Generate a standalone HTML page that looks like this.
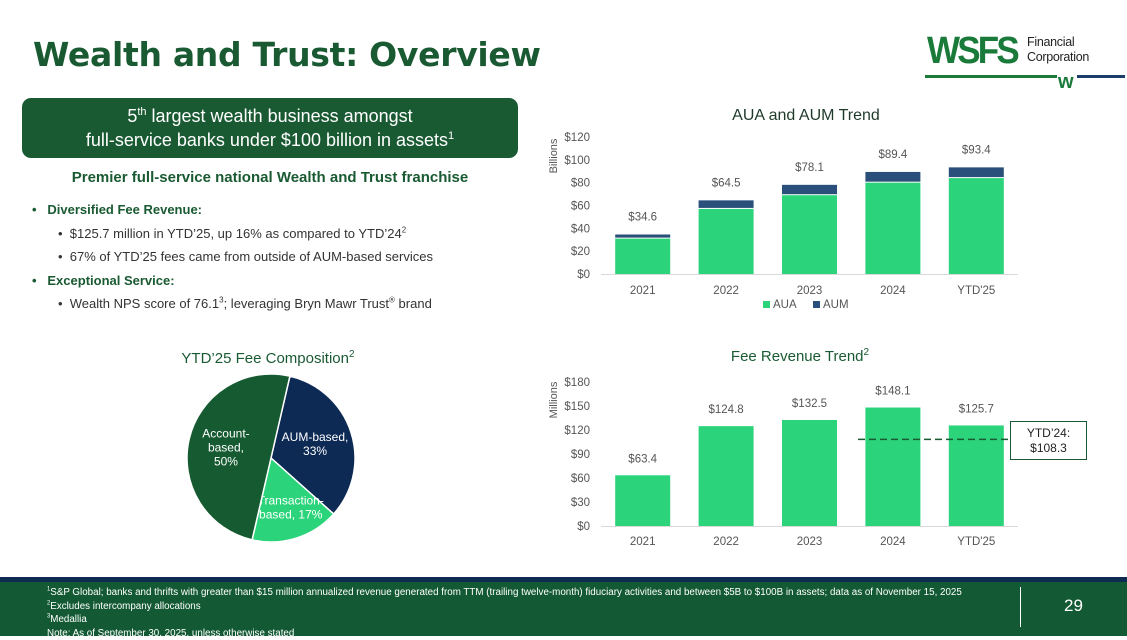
<!DOCTYPE html>
<html><head><meta charset="utf-8">
<style>
body{margin:0;width:1127px;height:636px;overflow:hidden;background:#fff;font-family:"Liberation Sans",sans-serif;position:relative}
.abs{position:absolute}
sup{line-height:0}
</style></head><body>
<div class="abs" style="left:33px;top:35px;font-size:33px;font-weight:bold;color:#1a5a32;font-family:'DejaVu Sans','Liberation Sans',sans-serif;letter-spacing:-0.3px">Wealth and Trust: Overview</div>
<div class="abs" style="left:925px;top:30px;width:200px;height:70px">
 <div style="position:absolute;left:2px;top:0px;font-size:38px;font-weight:900;color:#1a7a3a;letter-spacing:-3px;font-family:'Liberation Sans',sans-serif;transform:scaleX(0.92);transform-origin:left">WSFS</div>
 <div style="position:absolute;left:102px;top:5px;font-size:12.5px;line-height:15px;color:#222;letter-spacing:-0.3px">Financial<br>Corporation</div>
 <div style="position:absolute;left:0;top:45px;width:132px;height:3px;background:#1a7a3a"></div>
 <div style="position:absolute;left:152px;top:45px;width:48px;height:3px;background:#1c3d6a"></div>
 <div style="position:absolute;left:133px;top:41px;font-size:20px;font-weight:900;color:#1a7a3a">w</div>
</div>
<div class="abs" style="left:22px;top:98px;width:496px;height:60px;background:#1a5a32;border-radius:9px;color:#fff;text-align:center;font-size:18px;line-height:24px;padding-top:6px;box-sizing:border-box">5<sup style="font-size:11px">th</sup> largest wealth business amongst<br>full-service banks under $100 billion in assets<sup style="font-size:11px">1</sup></div>
<div class="abs" style="left:22px;width:496px;top:169px;text-align:center;font-size:15px;font-weight:bold;color:#1a5a32">Premier full-service national Wealth and Trust franchise</div>
<div class="abs" style="left:32px;top:198px;font-size:13px;color:#333;line-height:23.5px">
 <div style="font-weight:bold;color:#1a5a32">•&nbsp;&nbsp; Diversified Fee Revenue:</div>
 <div style="padding-left:26px">•&nbsp; $125.7 million in YTD’25, up 16% as compared to YTD’24<sup style="font-size:8px">2</sup></div>
 <div style="padding-left:26px">•&nbsp; 67% of YTD’25 fees came from outside of AUM-based services</div>
 <div style="font-weight:bold;color:#1a5a32">•&nbsp;&nbsp; Exceptional Service:</div>
 <div style="padding-left:26px">•&nbsp; Wealth NPS score of 76.1<sup style="font-size:8px">3</sup>; leveraging Bryn Mawr Trust<sup style="font-size:8px">®</sup> brand</div>
</div>

<svg class="abs" style="left:0;top:0" width="1127" height="636" font-family="Liberation Sans, sans-serif">
 <g id="top"></g><g id="bot"></g><g id="pie"></g>
</svg>

<div class="abs" style="left:1010px;top:421px;width:77px;height:39px;border:1.5px solid #1a5a32;box-sizing:border-box;font-size:12px;text-align:center;line-height:15px;padding-top:4px;color:#222">YTD’24:<br>$108.3</div>

<div class="abs" style="left:0;top:577px;width:1127px;height:5px;background:#0d2a50"></div>
<div class="abs" style="left:0;top:582px;width:1127px;height:54px;background:#135a34;color:#fff;font-size:10px;line-height:13.5px">
 <div style="position:absolute;left:47px;top:4px;transform:scaleX(0.98);transform-origin:left;white-space:nowrap">
 <div><sup style="font-size:6px">1</sup>S&amp;P Global; banks and thrifts with greater than $15 million annualized revenue generated from TTM (trailing twelve-month) fiduciary activities and between $5B to $100B in assets; data as of November 15, 2025</div>
 <div><sup style="font-size:6px">2</sup>Excludes intercompany allocations</div>
 <div><sup style="font-size:6px">3</sup>Medallia</div>
 <div>Note: As of September 30, 2025, unless otherwise stated</div></div>
 <div style="position:absolute;left:1020px;top:5px;width:1px;height:40px;background:#fff"></div>
 <div style="position:absolute;left:1064px;top:17px;font-size:17px">29</div>
</div>

<script>
const ns='http://www.w3.org/2000/svg';
const topCats=['2021','2022','2023','2024',"YTD'25"];
const aua=[31,57,69,80,84];
const totals=[34.6,64.5,78.1,89.4,93.4];
const totalLabels=['$34.6','$64.5','$78.1','$89.4','$93.4'];
const topTicks=[0,20,40,60,80,100,120];
const botCats=['2021','2022','2023','2024',"YTD'25"];
const fees=[63.4,124.8,132.5,148.1,125.7];
const feeLabels=['$63.4','$124.8','$132.5','$148.1','$125.7'];
const botTicks=[0,30,60,90,120,150,180];
const ytd24=108.3;
const pieLabels=[['AUM-based,','33%'],['Transaction-','based, 17%'],['Account-','based,','50%']];
const pieVals=[33,17,50];

function mk(p,tag,attrs,txt){const e=document.createElementNS(ns,tag);for(const k in attrs)e.setAttribute(k,attrs[k]);if(txt!=null)e.textContent=txt;p.appendChild(e);return e;}
const G='#2bd47a',N='#2a4f7a';
(function(){
 const g=document.getElementById('top');
 const y0=274,y1=137,max=120,x0=601,x1=1018;
 const y=v=>y0-(v/max)*(y0-y1);
 const step=(x1-x0)/topCats.length, bw=55;
 let t=mk(g,'text',{x:806,y:120,'font-size':16,'text-anchor':'middle',fill:'#1f3a2a'},'AUA and AUM Trend');
 
 t=mk(g,'text',{transform:'translate(557,156) rotate(-90)','font-size':11,'text-anchor':'middle',fill:'#555'},'Billions');
 
 topTicks.forEach(v=>{const e=mk(g,'text',{x:590,y:y(v)+4,'font-size':11.5,'text-anchor':'end',fill:'#555'},'$'+v);
  });
 mk(g,'line',{x1:x0,x2:x1,y1:y0+0.5,y2:y0+0.5,stroke:'#d9d9d9'});
 topCats.forEach((c,i)=>{
  const cx=x0+step*(i+0.5);
  let r=mk(g,'rect',{x:cx-bw/2,y:y(aua[i]),width:bw,height:y0-y(aua[i]),fill:G});
  
  r=mk(g,'rect',{x:cx-bw/2,y:y(totals[i]),width:bw,height:y(aua[i])-y(totals[i])-1,fill:N});
  
  let e=mk(g,'text',{x:cx,y:y(totals[i])-14,'font-size':11.5,'text-anchor':'middle',fill:'#555'},totalLabels[i]);
  
  e=mk(g,'text',{x:cx,y:294,'font-size':11.5,'text-anchor':'middle',fill:'#555'},c);
  
 });
 let r=mk(g,'rect',{x:763,y:301,width:7,height:7,fill:G});
 let e=mk(g,'text',{x:773,y:308,'font-size':11.5,fill:'#555'},'AUA');
 r=mk(g,'rect',{x:813,y:301,width:7,height:7,fill:N});
 e=mk(g,'text',{x:823,y:308,'font-size':11.5,fill:'#555'},'AUM');
})();
(function(){
 const g=document.getElementById('bot');
 const y0=526,y1=382,max=180,x0=601,x1=1018;
 const y=v=>y0-(v/max)*(y0-y1);
 const step=(x1-x0)/botCats.length, bw=55;
 let t=mk(g,'text',{x:800,y:361,'font-size':15,'text-anchor':'middle',fill:'#1a5a32'},'Fee Revenue Trend');
 mk(t,'tspan',{dy:-6,'font-size':10},'2');
 
 t=mk(g,'text',{transform:'translate(557,400) rotate(-90)','font-size':11,'text-anchor':'middle',fill:'#555'},'Millions');
 
 botTicks.forEach(v=>{const e=mk(g,'text',{x:590,y:y(v)+4,'font-size':11.5,'text-anchor':'end',fill:'#555'},'$'+v);
  });
 mk(g,'line',{x1:x0,x2:x1,y1:y0+0.5,y2:y0+0.5,stroke:'#d9d9d9'});
 botCats.forEach((c,i)=>{
  const cx=x0+step*(i+0.5);
  let r=mk(g,'rect',{x:cx-bw/2,y:y(fees[i]),width:bw,height:y0-y(fees[i]),fill:G});
  
  let e=mk(g,'text',{x:cx,y:y(fees[i])-13,'font-size':11.5,'text-anchor':'middle',fill:'#555'},feeLabels[i]);
  
  e=mk(g,'text',{x:cx,y:545,'font-size':11.5,'text-anchor':'middle',fill:'#555'},c);
  
 });
 const l=mk(g,'line',{x1:858,x2:1008,y1:y(ytd24),y2:y(ytd24),stroke:'#1a5a32','stroke-width':1.5,'stroke-dasharray':'7,4'});
 
})();
(function(){
 const g=document.getElementById('pie');
 let t=mk(g,'text',{x:268,y:363,'font-size':15,'text-anchor':'middle',fill:'#1a5a32'},'YTD’25 Fee Composition');
 mk(t,'tspan',{dy:-6,'font-size':10},'2');
 
 const cx=271,cy=458,r=84,cols=['#0d2a55','#2bd47a','#155a30'];
 const total=pieVals.reduce((a,b)=>a+b,0);
 let a=13*Math.PI/180;
 const pt=(ang,rr)=>[cx+rr*Math.sin(ang),cy-rr*Math.cos(ang)];
 const lab=[0.55,0.62,0.55];
 pieVals.forEach((v,i)=>{
  const da=v/total*2*Math.PI,b=a+da;
  const [x1,y1]=pt(a,r),[x2,y2]=pt(b,r);
  const p=mk(g,'path',{d:`M${cx},${cy}L${x1},${y1}A${r},${r} 0 ${da>Math.PI?1:0} 1 ${x2},${y2}Z`,fill:cols[i],stroke:'#fff','stroke-width':1.5});
  
  let [lx,ly]=pt(a+da/2,r*lab[i]);
  if(i===1){lx+=4;}
  const lines=pieLabels[i];
  const e=mk(g,'text',{x:lx,y:ly-(lines.length-1)*7+4,'font-size':12,'text-anchor':'middle',fill:'#fff'});
  lines.forEach((s,k)=>mk(e,'tspan',{x:lx,dy:k?14:0},s));
  
  a=b;
 });
})();
</script>
</body></html>
